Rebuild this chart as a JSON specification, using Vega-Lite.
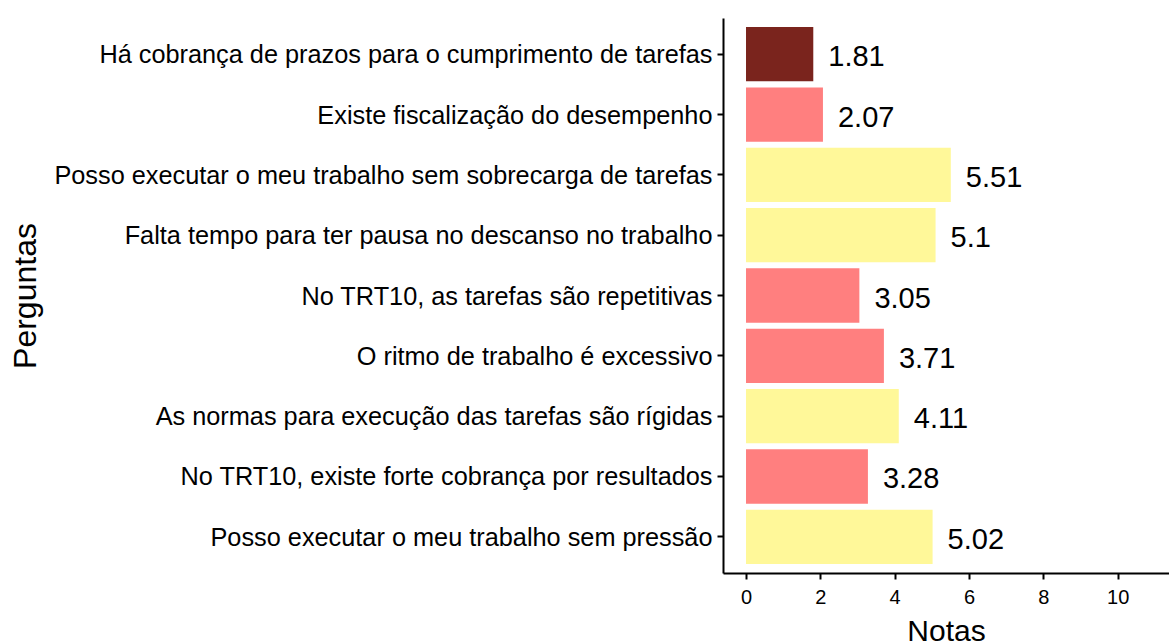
{
  "$schema": "https://vega.github.io/schema/vega-lite/v6.json",
  "width": 446,
  "height": 555,
  "autosize": {"type": "none"},
  "padding": {"left": 723, "top": 18, "right": 0, "bottom": 71},
  "background": "white",
  "config": {"view": {"stroke": null}, "font": "Liberation Sans"},
  "data": {
    "values": [
      {"pergunta": "Há cobrança de prazos para o cumprimento de tarefas", "nota": 1.81, "faixa": "baixa"},
      {"pergunta": "Existe fiscalização do desempenho", "nota": 2.07, "faixa": "media"},
      {"pergunta": "Posso executar o meu trabalho sem sobrecarga de tarefas", "nota": 5.51, "faixa": "alta"},
      {"pergunta": "Falta tempo para ter pausa no descanso no trabalho", "nota": 5.1, "faixa": "alta"},
      {"pergunta": "No TRT10, as tarefas são repetitivas", "nota": 3.05, "faixa": "media"},
      {"pergunta": "O ritmo de trabalho é excessivo", "nota": 3.71, "faixa": "media"},
      {"pergunta": "As normas para execução das tarefas são rígidas", "nota": 4.11, "faixa": "alta"},
      {"pergunta": "No TRT10, existe forte cobrança por resultados", "nota": 3.28, "faixa": "media"},
      {"pergunta": "Posso executar o meu trabalho sem pressão", "nota": 5.02, "faixa": "alta"}
    ]
  },
  "encoding": {
    "y": {
      "field": "pergunta",
      "type": "nominal",
      "sort": null,
      "scale": {"paddingInner": 0.1, "paddingOuter": 0.15},
      "axis": {
        "title": "Perguntas",
        "titleFontSize": 32,
        "titleFontWeight": "normal",
        "titleColor": "black",
        "titleAngle": -90,
        "titleX": -688,
        "titleBaseline": "alphabetic",
        "labelFontSize": 25.3,
        "labelColor": "black",
        "labelLimit": 0,
        "labelPadding": 5,
        "labelOffset": 1,
        "tickSize": 6,
        "tickWidth": 2,
        "tickColor": "black",
        "domainColor": "black",
        "domainWidth": 2
      }
    }
  },
  "layer": [
    {
      "mark": {"type": "bar"},
      "encoding": {
        "x": {
          "field": "nota",
          "type": "quantitative",
          "scale": {"domain": [-0.619, 11.38], "nice": false, "zero": false},
          "axis": {
            "values": [0, 2, 4, 6, 8, 10],
            "grid": false,
            "title": "Notas",
            "titleFontSize": 30,
            "titleFontWeight": "normal",
            "titleColor": "black",
            "titleY": 67,
            "titleBaseline": "alphabetic",
            "labelFontSize": 20,
            "labelColor": "black",
            "labelPadding": 8,
            "tickSize": 6,
            "tickWidth": 2,
            "tickColor": "black",
            "domainColor": "black",
            "domainWidth": 2
          }
        },
        "x2": {"datum": 0},
        "color": {
          "field": "faixa",
          "type": "nominal",
          "scale": {"domain": ["baixa", "media", "alta"], "range": ["#7A241D", "#FF7F7F", "#FFF899"]},
          "legend": null
        }
      }
    },
    {
      "mark": {"type": "text", "align": "left", "baseline": "middle", "dx": 15, "dy": 3, "fontSize": 29, "color": "black"},
      "encoding": {
        "x": {"field": "nota", "type": "quantitative"},
        "text": {"field": "nota", "type": "nominal"}
      }
    }
  ]
}
